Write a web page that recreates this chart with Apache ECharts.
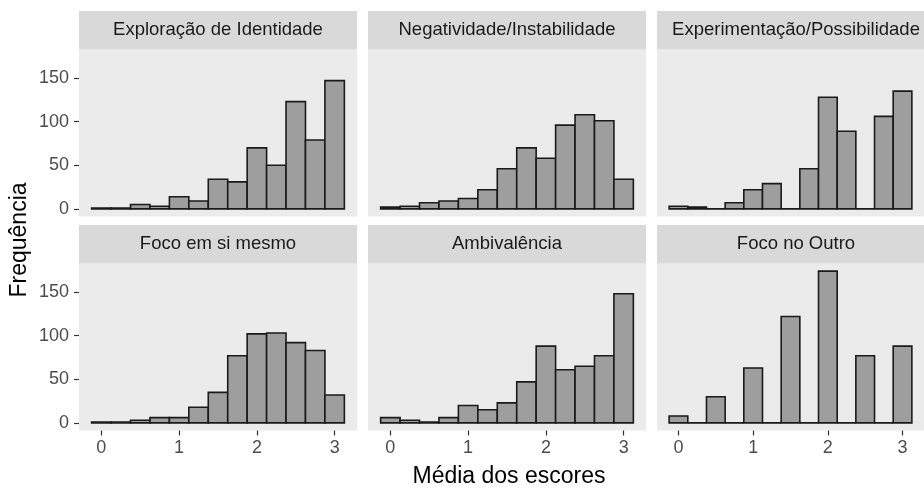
<!DOCTYPE html>
<html>
<head>
<meta charset="utf-8">
<script src="https://cdn.jsdelivr.net/npm/echarts@6/dist/echarts.min.js"></script>
<style>
	html, body { margin: 0; padding: 0; background: #fff; }
	#histDom { width: 924px; height: 489px; }
</style>
</head>
<body>
<div id="histDom"></div>
<script>
// bins of width 0.25, centred on these values
var binCenters = [0, 0.25, 0.5, 0.75, 1, 1.25, 1.5, 1.75, 2, 2.25, 2.5, 2.75, 3];
var binWidth = 0.25;

var panelNames = ['Exploração de Identidade', 'Negatividade/Instabilidade', 'Experimentação/Possibilidade',
	'Foco em si mesmo', 'Ambivalência', 'Foco no Outro'];

var exploracao = [1, 1, 5, 3, 14, 9, 34, 31, 70, 50, 123, 79, 147];
var negatividade = [2, 3, 7, 9, 12, 22, 46, 70, 58, 96, 108, 101, 34];
var experimentacao = [3, 2, 0, 7, 22, 29, 0, 46, 128, 89, 0, 106, 135];
var focoSi = [1, 1, 3, 6, 6, 18, 35, 77, 102, 103, 92, 83, 32];
var ambivalencia = [6, 3, 1, 6, 20, 15, 23, 47, 88, 61, 65, 77, 148];
var focoOutro = [8, 0, 30, 0, 63, 0, 122, 0, 174, 0, 77, 0, 88];

var yTicks = [0, 50, 100, 150];
var xTicks = [0, 1, 2, 3];

histogramFacets();

function histogramFacets() {
	var dom = document.getElementById('histDom');
	var myChart = echarts.init(dom, null, { renderer: 'canvas' });

	var counts = [exploracao, negatividade, experimentacao, focoSi, ambivalencia, focoOutro];
	var font = "'Liberation Sans', Arial, sans-serif";

	var colLeft = [79, 368, 657];
	var panelW = 278;
	var rowTop = [49.5, 263.5];
	var panelH = 167;
	var stripH = 38.5;

	var grids = [], xAxes = [], yAxes = [], series = [], graphics = [];

	for (var i = 0; i < 6; i++) {
		var row = Math.floor(i / 3), col = i % 3;
		grids.push({
			left: colLeft[col],
			top: rowTop[row],
			width: panelW,
			height: panelH,
			show: true,
			backgroundColor: '#EBEBEB',
			borderWidth: 0
		});
		xAxes.push({
			type: 'value',
			gridIndex: i,
			min: -0.2875,
			max: 3.2875,
			splitLine: { show: false },
			axisLine: { show: false, onZero: false },
			axisTick: {
				show: row === 1,
				customValues: xTicks,
				length: 5,
				lineStyle: { color: '#333333', width: 1.2 }
			},
			axisLabel: {
				show: row === 1,
				customValues: xTicks,
				margin: 9,
				color: '#4D4D4D',
				fontSize: 18,
				fontFamily: font
			}
		});
		yAxes.push({
			type: 'value',
			gridIndex: i,
			min: -8.7,
			max: 182.7,
			splitLine: { show: false },
			axisLine: { show: false, onZero: false },
			axisTick: {
				show: col === 0,
				customValues: yTicks,
				length: 5,
				lineStyle: { color: '#333333', width: 1.2 }
			},
			axisLabel: {
				show: col === 0,
				customValues: yTicks,
				margin: 10,
				color: '#4D4D4D',
				fontSize: 18,
				fontFamily: font
			}
		});

		var data = binCenters.map(function(c, k) {
			return [c, counts[i][k]];
		});
		series.push({
			type: 'custom',
			xAxisIndex: i,
			yAxisIndex: i,
			clip: true,
			data: data,
			renderItem: function(params, api) {
				var x = api.value(0), y = api.value(1);
				var p0 = api.coord([x - binWidth / 2, 0]);
				var p1 = api.coord([x + binWidth / 2, y]);
				return {
					type: 'rect',
					shape: { x: p0[0], y: p1[1], width: p1[0] - p0[0], height: p0[1] - p1[1] },
					style: { fill: '#9E9E9E', stroke: '#1A1A1A', lineWidth: 1.6 }
				};
			}
		});

		// facet strip
		graphics.push({
			type: 'rect',
			shape: { x: colLeft[col], y: rowTop[row] - stripH, width: panelW, height: stripH },
			style: { fill: '#D9D9D9' },
			silent: true
		});
		graphics.push({
			type: 'text',
			x: colLeft[col] + panelW / 2,
			y: rowTop[row] - stripH / 2,
			style: {
				text: panelNames[i],
				fill: '#1A1A1A',
				fontSize: 18.5,
				fontFamily: font,
				align: 'center',
				verticalAlign: 'middle'
			},
			silent: true
		});
	}

	graphics.push({
		type: 'text',
		x: 509,
		y: 477,
		style: {
			text: 'Média dos escores',
			fill: '#000',
			fontSize: 23,
			fontFamily: font,
			align: 'center',
			verticalAlign: 'middle'
		}
	});
	graphics.push({
		type: 'text',
		x: 20,
		y: 240,
		rotation: Math.PI / 2,
		style: {
			text: 'Frequência',
			fill: '#000',
			fontSize: 23,
			fontFamily: font,
			align: 'center',
			verticalAlign: 'middle'
		}
	});

	var option = {
		backgroundColor: '#FFFFFF',
		animation: false,
		grid: grids,
		xAxis: xAxes,
		yAxis: yAxes,
		series: series,
		graphic: graphics
	};
	myChart.setOption(option, true);
}
</script>
</body>
</html>
